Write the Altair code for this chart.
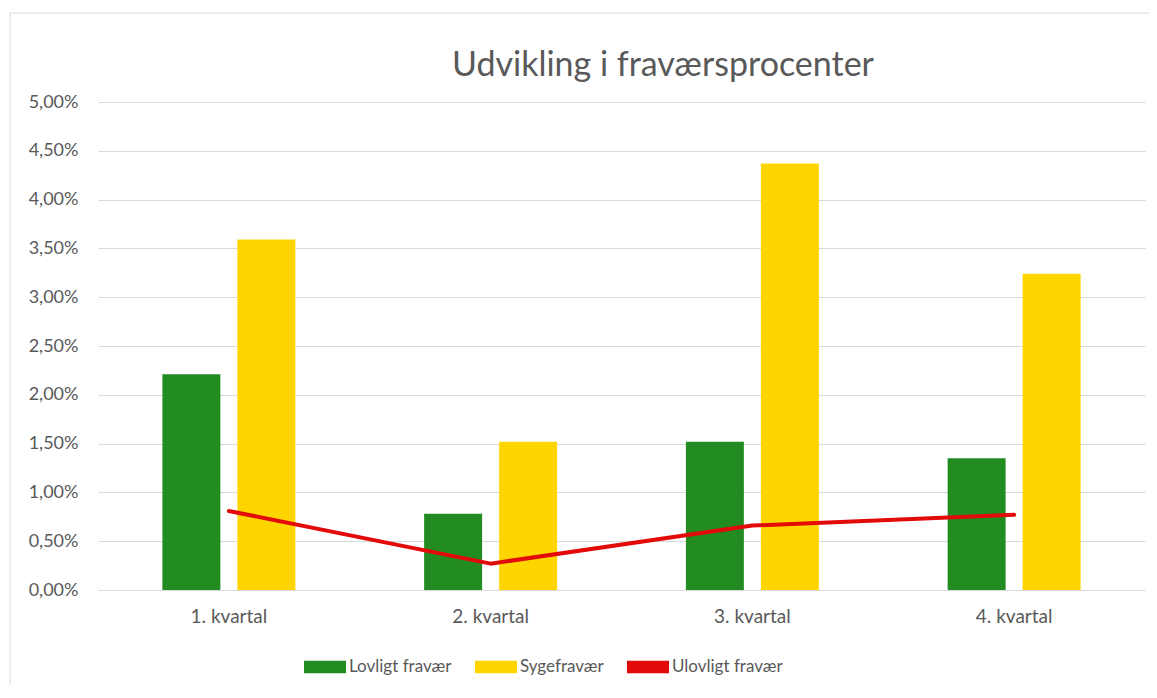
import altair as alt
import pandas as pd

categories = ["1. kvartal", "2. kvartal", "3. kvartal", "4. kvartal"]
series_names = ["Lovligt fravær", "Sygefravær", "Ulovligt fravær"]
lovligt = [0.0221, 0.0078, 0.0152, 0.0135]
syge = [0.0359, 0.0152, 0.0437, 0.0324]
ulovligt = [0.0081, 0.0027, 0.0066, 0.0077]
y_ticks = [0.0, 0.005, 0.01, 0.015, 0.02, 0.025, 0.03, 0.035, 0.04, 0.045, 0.05]
colors = ["#228B22", "#FFD500", "#E30A0A"]
title_text = "Udvikling i fraværsprocenter"

FONT = "Lato"
GRAY = "#595959"

bars_df = pd.DataFrame({
    "kvartal": categories * 2,
    "serie": [series_names[0]] * 4 + [series_names[1]] * 4,
    "value": lovligt + syge,
})
line_df = pd.DataFrame({
    "kvartal": categories,
    "serie": [series_names[2]] * 4,
    "value": ulovligt,
})

x_enc = alt.X(
    "kvartal:N", sort=categories, title=None,
    scale=alt.Scale(paddingInner=0.492, paddingOuter=0.246),
    axis=alt.Axis(labelAngle=0, labelFont=FONT, labelFontSize=19, labelColor=GRAY,
                  labelPadding=17, ticks=False, domainColor="#d9d9d9", grid=False),
)
y_enc = alt.Y(
    "value:Q", title=None,
    scale=alt.Scale(domain=[0, 0.05], nice=False),
    axis=alt.Axis(values=y_ticks, labelExpr="replace(format(datum.value, '.2%'), '.', ',')",
                  labelFont=FONT, labelFontSize=18, labelColor=GRAY, labelPadding=20,
                  ticks=False, domain=False, gridColor="#d9d9d9", gridWidth=1),
)

box_symbol = "M-1,-0.3H1V0.3H-1Z"
legend = alt.Legend(
    title=None, orient="none", direction="horizontal", legendX=206, legendY=544,
    labelFont=FONT, labelFontSize=17, labelColor=GRAY,
    symbolType=box_symbol, symbolSize=1764, symbolStrokeWidth=0, labelOffset=3,
    columnPadding=23,
)

bars = alt.Chart(bars_df).mark_bar().encode(
    x=x_enc,
    xOffset=alt.XOffset("serie:N", sort=series_names[:2],
                        scale=alt.Scale(paddingInner=0.227, paddingOuter=0)),
    y=y_enc,
    color=alt.Color("serie:N", sort=series_names,
                    scale=alt.Scale(domain=series_names, range=colors), legend=legend),
)

line = alt.Chart(line_df).mark_line(strokeWidth=4, strokeCap="round", strokeJoin="round").encode(
    x=alt.X("kvartal:N", sort=categories, bandPosition=0.5),
    y="value:Q",
    color=alt.value(colors[2]),
)

border = alt.Chart(alt.Data(values=[{}])).mark_rect(
    fill="transparent", stroke="#d9d9d9", strokeWidth=1
).encode(
    x=alt.value(-88), x2=alt.value(1070), y=alt.value(-89), y2=alt.value(620)
)

title = alt.Chart(alt.Data(values=[{}])).mark_text(
    text=title_text, font=FONT, fontSize=34, color=GRAY, align="center", baseline="alphabetic"
).encode(x=alt.value(565), y=alt.value(-26))

chart = alt.layer(border, title, bars, line).properties(
    width=1047, height=488,
    background="white",
    autosize=alt.AutoSizeParams(type="none"),
    padding={"left": 90, "top": 94, "right": 4, "bottom": 95},
).configure_view(strokeWidth=0)

chart.save("out.html", embed_options={"renderer": "svg", "actions": False})
